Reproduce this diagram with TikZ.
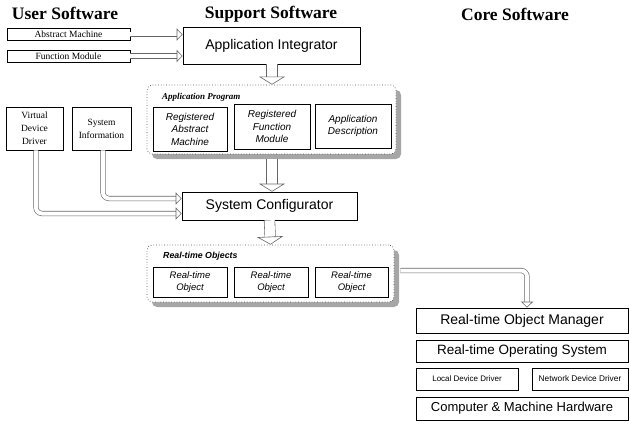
\documentclass[tikz,border=0pt]{standalone}
\usepackage{fontspec}
\setmainfont{Liberation Serif}
\setsansfont{Liberation Sans}
\usetikzlibrary{arrows.meta, shadows}

\begin{document}
\begin{tikzpicture}[x=1pt, y=-1pt,
  title/.style={font=\fontsize{17.5}{20}\selectfont\bfseries},
  box/.style={draw, line width=0.6pt, inner sep=0pt, align=center, fill=white},
  shbox/.style={box, drop shadow={shadow xshift=1pt, shadow yshift=-1pt, opacity=1, fill=black}},
  group/.style={draw=black!70, dotted, line width=0.7pt, rounded corners=5pt, fill=white,
    drop shadow={shadow xshift=5pt, shadow yshift=-5pt, opacity=1, fill=black!35}},
  grouplabel/.style={anchor=west, inner sep=0pt},
  big/.style={font=\sffamily\fontsize{14}{16}\selectfont},
  inner/.style={font=\sffamily\itshape\fontsize{10}{12.5}\selectfont},
  small/.style={font=\fontsize{9.5}{13}\selectfont},
  dbl/.style={draw=black!60, line width=0.6pt, double=white, double distance=4pt,
    rounded corners=6pt, -{Triangle[open, length=6pt, width=12pt]}},
  fat/.style={draw=black!60, line width=0.6pt, double=white, double distance=10pt,
    -{Triangle[open, length=8pt, width=26pt]}}
]
\useasboundingbox (0,0) rectangle (629,425);

% column headings
\node[title] (hu) at (65,13) {User Software};
\node[title] (hs) at (271,14) {Support Software};
\node[title] (hc) at (515,14) {Core Software};

% user software
\node[box, small, minimum width=123pt, minimum height=12pt] (am) at (68.5,34.5) {Abstract Machine};
\node[box, small, minimum width=123pt, minimum height=12pt] (fm) at (68.5,56) {Function Module};
\node[shbox, small, minimum width=57pt, minimum height=43pt] (vdd) at (34.5,128.5) {Virtual\\Device\\Driver};
\node[shbox, small, minimum width=59pt, minimum height=43pt] (si) at (101.5,128.5) {System\\Information};

% support software
\node[shbox, big, minimum width=177pt, minimum height=37pt] (ai) at (271.5,45.5) {Application Integrator};

\node[group, minimum width=249pt, minimum height=69pt] (ap) at (271.5,119.5) {};
\node[grouplabel, font=\fontsize{9}{10}\selectfont\bfseries\itshape] (apl) at (162,97) {Application Program};
\node[shbox, inner, minimum width=74pt, minimum height=44pt] (ram) at (190,129) {Registered\\Abstract\\Machine};
\node[shbox, inner, minimum width=76pt, minimum height=45pt] (rfm) at (272,126.5) {Registered\\Function\\Module};
\node[shbox, inner, minimum width=76pt, minimum height=44pt] (ad) at (353,126) {Application\\Description};

\node[shbox, big, minimum width=175pt, minimum height=28pt] (sc) at (269.5,206) {System Configurator};

\node[group, minimum width=247pt, minimum height=57pt] (rto) at (270.5,273.5) {};
\node[grouplabel, font=\sffamily\fontsize{8.8}{10}\selectfont\bfseries\itshape] (rtol) at (163,256) {Real-time Objects};
\node[shbox, inner, font=\sffamily\itshape\fontsize{9.5}{12}\selectfont, minimum width=74pt, minimum height=30pt] (rt1) at (190,282) {Real-time\\Object};
\node[shbox, inner, font=\sffamily\itshape\fontsize{9.5}{12}\selectfont, minimum width=74pt, minimum height=30pt] (rt2) at (271,282) {Real-time\\Object};
\node[shbox, inner, font=\sffamily\itshape\fontsize{9.5}{12}\selectfont, minimum width=73pt, minimum height=30pt] (rt3) at (351.5,282) {Real-time\\Object};

% core software
\node[box, big, minimum width=212pt, minimum height=25pt] (rtom) at (522,320.5) {Real-time Object Manager};
\node[box, big, font=\sffamily\fontsize{13.5}{16}\selectfont, minimum width=212pt, minimum height=22pt] (rtos) at (522,351) {Real-time Operating System};
\node[box, font=\sffamily\fontsize{8}{9}\selectfont, minimum width=102pt, minimum height=22pt] (ldd) at (467,379) {Local Device Driver};
\node[box, font=\sffamily\fontsize{8.3}{9}\selectfont, minimum width=96pt, minimum height=22pt] (ndd) at (580,379) {Network Device Driver};
\node[box, font=\sffamily\fontsize{13}{16}\selectfont, minimum width=212pt, minimum height=23pt] (cmh) at (522,408.5) {Computer \& Machine Hardware};

% connectors
\draw[dbl] (am.east) -- (am.east -| ai.west);
\draw[dbl] (fm.east) -- (fm.east -| ai.west);
\draw[fat] ([xshift=0.5pt]ai.south) -- ([xshift=0.5pt]ap.north);
\draw[fat] ([xshift=0.5pt,yshift=-5pt]ap.south) -- ([xshift=2.5pt]sc.north);
\draw[fat] (sc.south) -- (rto.north);
\draw[dbl] ([xshift=1.5pt]vdd.south) |- ([yshift=-7.5pt]sc.west);
\draw[dbl] ([xshift=1.5pt]si.south) |- ([yshift=7.5pt]sc.west);
\draw[dbl] ([xshift=6pt,yshift=3pt]rto.east) -| ([xshift=5pt]rtom.north);
\end{tikzpicture}
\end{document}
